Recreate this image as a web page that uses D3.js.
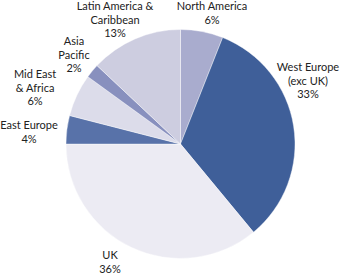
<!DOCTYPE html>
<meta charset="utf-8">
<script src="https://d3js.org/d3.v7.min.js"></script>
<style>
body { margin: 0; background: #fff; }
.lbl { font-family: Lato, "Open Sans", sans-serif; font-size: 11px; fill: #222; }
</style>
<div id="chart"></div>
<script>
// regions, clockwise from 12 o'clock
var regions = ["North America", "West Europe (exc UK)", "UK", "East Europe", "Mid East & Africa", "Asia Pacific", "Latin America & Caribbean"];
var shares = [6, 33, 36, 4, 6, 2, 13];
var colours = ["#a9acce", "#3f5f99", "#ecebf3", "#5872a9", "#dcdcea", "#8890be", "#cdcde0"];

// label lines and their anchor (centre x, first baseline y)
var labelLines = [
  ["North America", "6%"],
  ["West Europe", "(exc UK)", "33%"],
  ["UK", "36%"],
  ["East Europe", "4%"],
  ["Mid East", "& Africa", "6%"],
  ["Asia", "Pacific", "2%"],
  ["Latin America &", "Caribbean", "13%"]
];
var labelAt = [[212, 10], [308, 71], [110, 259], [29, 129], [35, 78], [74, 45], [115, 10]];

var width = 343, height = 275;
var cx = 180.5, cy = 144, r = 114.5;

var svg = d3.select("#chart").append("svg")
    .attr("width", width)
    .attr("height", height);

var pie = d3.pie().sort(null).value(function(d) { return d; });
var arc = d3.arc().innerRadius(0).outerRadius(r);

svg.append("g")
    .attr("transform", "translate(" + cx + "," + cy + ")")
  .selectAll("path")
  .data(pie(shares))
  .enter().append("path")
    .attr("d", arc)
    .attr("fill", function(d, i) { return colours[i]; })
    .attr("stroke", "#fff")
    .attr("stroke-width", 0.4);

var lbl = svg.append("g").selectAll("text")
  .data(regions)
  .enter().append("text")
    .attr("class", "lbl")
    .attr("text-anchor", "middle")
    .attr("x", function(d, i) { return labelAt[i][0]; })
    .attr("y", function(d, i) { return labelAt[i][1]; });

lbl.selectAll("tspan")
  .data(function(d, i) { return labelLines[i].map(function(t) { return {t: t, i: i}; }); })
  .enter().append("tspan")
    .attr("x", function(d) { return labelAt[d.i][0]; })
    .attr("dy", function(d, j) { return j === 0 ? 0 : 13.5; })
    .text(function(d) { return d.t; });
</script>
